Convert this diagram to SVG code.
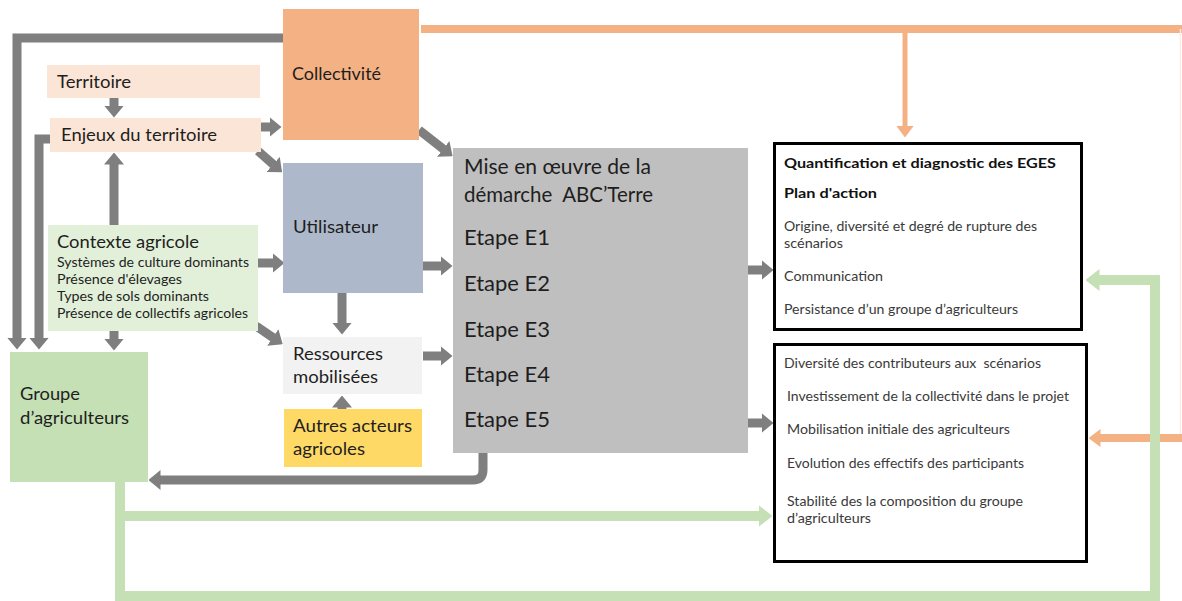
<svg xmlns="http://www.w3.org/2000/svg" width="1182" height="601" viewBox="0 0 1182 601">
<style>
text{font-family:Lato,"Liberation Sans",sans-serif;fill:#1e1e1e;}
.m{font-size:17px;}
.s{font-size:13px;}
.g{font-size:21px;}
.b{font-size:13.5px;font-weight:bold;fill:#111;}
.r{font-size:12.5px;fill:#3a3a3a;}
.cg{fill:none;stroke:#7f7f7f;stroke-width:9;marker-end:url(#ag);}
.co{fill:none;stroke:#f4b183;stroke-width:8;}
.cr{fill:none;stroke:#c5e0b4;stroke-width:10;}
</style>
<defs>
<marker id="ag" markerUnits="userSpaceOnUse" viewBox="0 0 12 20" markerWidth="12" markerHeight="20" refX="0.5" refY="10" orient="auto"><path d="M0,0 L12,10 L0,20 z" fill="#7f7f7f"/></marker>
<marker id="ao" markerUnits="userSpaceOnUse" viewBox="0 0 12 18" markerWidth="12" markerHeight="18" refX="0.5" refY="9" orient="auto"><path d="M0,0 L12,9 L0,18 z" fill="#f4b183"/></marker>
<marker id="agr" markerUnits="userSpaceOnUse" viewBox="0 0 14 22" markerWidth="14" markerHeight="22" refX="0.5" refY="11" orient="auto"><path d="M0,0 L14,11 L0,22 z" fill="#c5e0b4"/></marker>
</defs>
<rect width="1182" height="601" fill="#fff"/>

<g id="connectors">
<path class="co" d="M421,29 H1182"/>
<path class="co" d="M905,29 V126" style="stroke-width:5;marker-end:url(#ao)"/>
<path d="M1180.5,29 V438" fill="none" stroke="#fcebe0" stroke-width="1.5"/>
<path class="co" d="M1182,438 H1100" style="marker-end:url(#ao)"/>
<path class="cr" d="M120,482 V596 H1155 V280 H1099" style="marker-end:url(#agr)"/>
<path class="cr" d="M120,516 H759" style="marker-end:url(#agr)"/>
<path class="cg" d="M114,98 V106"/>
<path class="cg" d="M114,225 V164"/>
<path class="cg" d="M261,127 H270"/>
<path class="cg" d="M258,151 L273.5,164.7"/>
<path class="cg" d="M419,130 L443.6,149.2"/>
<path class="cg" d="M258,263 H273"/>
<path class="cg" d="M256,326 L273.2,337.7"/>
<path class="cg" d="M114,331 V339"/>
<path class="cg" d="M342,293 V323"/>
<path class="cg" d="M342,409 V407"/>
<path class="cg" d="M423,266 H441"/>
<path class="cg" d="M423,356 H441"/>
<path class="cg" d="M748,270 H762"/>
<path class="cg" d="M748,423 H762"/>
<path class="cg" d="M283,38 H17 V338"/>
<path class="cg" d="M50,139 H39 V338"/>
<path class="cg" d="M483,453 V470 Q483,480 473,480 H160"/>
</g>

<g id="territoire">
<rect x="47" y="65" width="213" height="33" fill="#fbe5d6"/>
<text class="m" x="57" y="88" textLength="74" lengthAdjust="spacingAndGlyphs">Territoire</text>
</g>
<g id="enjeux">
<rect x="50" y="118" width="211" height="34" fill="#fbe5d6"/>
<text class="m" x="61" y="141" textLength="156" lengthAdjust="spacingAndGlyphs">Enjeux du territoire</text>
</g>
<g id="collectivite">
<rect x="283" y="9" width="136" height="131" fill="#f4b183"/>
<text class="m" x="292" y="80" textLength="89" lengthAdjust="spacingAndGlyphs">Collectivité</text>
</g>
<g id="utilisateur">
<rect x="283" y="163" width="140" height="130" fill="#adb9ca"/>
<text class="m" x="293" y="233" textLength="85" lengthAdjust="spacingAndGlyphs">Utilisateur</text>
</g>
<g id="contexte">
<rect x="48" y="225" width="210" height="106" fill="#e2f0d9"/>
<text x="57" y="248" style="font-size:18px" textLength="142" lengthAdjust="spacingAndGlyphs">Contexte agricole</text>
<text class="s" x="57" y="267" textLength="192" lengthAdjust="spacingAndGlyphs">Systèmes de culture dominants</text>
<text class="s" x="57" y="284" textLength="125" lengthAdjust="spacingAndGlyphs">Présence d'élevages</text>
<text class="s" x="57" y="301" textLength="152" lengthAdjust="spacingAndGlyphs">Types de sols dominants</text>
<text class="s" x="57" y="318" textLength="191" lengthAdjust="spacingAndGlyphs">Présence de collectifs agricoles</text>
</g>
<g id="ressources">
<rect x="283" y="337" width="139" height="57" fill="#f2f2f2"/>
<text class="m" x="293" y="360" textLength="90" lengthAdjust="spacingAndGlyphs">Ressources</text>
<text class="m" x="293" y="383" textLength="85" lengthAdjust="spacingAndGlyphs">mobilisées</text>
</g>
<g id="autres">
<rect x="284" y="409" width="138" height="58" fill="#ffd966"/>
<text class="m" x="293" y="432" textLength="119" lengthAdjust="spacingAndGlyphs">Autres acteurs</text>
<text class="m" x="293" y="455" textLength="72" lengthAdjust="spacingAndGlyphs">agricoles</text>
</g>
<g id="groupe">
<rect x="10" y="352" width="138" height="130" fill="#c5e0b4"/>
<text class="m" x="20" y="400" textLength="60" lengthAdjust="spacingAndGlyphs">Groupe</text>
<text class="m" x="20" y="424" textLength="109" lengthAdjust="spacingAndGlyphs">d’agriculteurs</text>
</g>
<g id="demarche">
<rect x="453" y="148" width="295" height="305" fill="#bfbfbf"/>
<text class="g" x="464" y="174" textLength="187" lengthAdjust="spacingAndGlyphs">Mise en œuvre de la</text>
<text class="g" x="464" y="202" textLength="189" lengthAdjust="spacingAndGlyphs" xml:space="preserve">démarche  ABC’Terre</text>
<text class="g" x="464" y="245" textLength="86" lengthAdjust="spacingAndGlyphs">Etape E1</text>
<text class="g" x="464" y="291" textLength="86" lengthAdjust="spacingAndGlyphs">Etape E2</text>
<text class="g" x="464" y="337" textLength="86" lengthAdjust="spacingAndGlyphs">Etape E3</text>
<text class="g" x="464" y="382" textLength="86" lengthAdjust="spacingAndGlyphs">Etape E4</text>
<text class="g" x="464" y="427" textLength="86" lengthAdjust="spacingAndGlyphs">Etape E5</text>
</g>
<g id="resultats">
<rect x="774.5" y="143.5" width="307" height="186" fill="#fff" stroke="#000" stroke-width="3"/>
<text class="b" x="784" y="168" textLength="272" lengthAdjust="spacingAndGlyphs">Quantification et diagnostic des EGES</text>
<text class="b" x="784" y="198" textLength="93" lengthAdjust="spacingAndGlyphs">Plan d'action</text>
<text class="r" x="784" y="231" textLength="253" lengthAdjust="spacingAndGlyphs">Origine, diversité et degré de rupture des</text>
<text class="r" x="784" y="248" textLength="59" lengthAdjust="spacingAndGlyphs">scénarios</text>
<text class="r" x="784" y="281" textLength="99" lengthAdjust="spacingAndGlyphs">Communication</text>
<text class="r" x="784" y="314" textLength="234" lengthAdjust="spacingAndGlyphs">Persistance d’un groupe d’agriculteurs</text>
</g>
<g id="indicateurs">
<rect x="774.5" y="344.5" width="312" height="217" fill="#fff" stroke="#000" stroke-width="3"/>
<text class="r" x="784" y="368" textLength="257" lengthAdjust="spacingAndGlyphs" xml:space="preserve">Diversité des contributeurs aux  scénarios</text>
<text class="r" x="787" y="401" textLength="282" lengthAdjust="spacingAndGlyphs">Investissement de la collectivité dans le projet</text>
<text class="r" x="787" y="434" textLength="223" lengthAdjust="spacingAndGlyphs">Mobilisation initiale des agriculteurs</text>
<text class="r" x="787" y="468" textLength="237" lengthAdjust="spacingAndGlyphs">Evolution des effectifs des participants</text>
<text class="r" x="787" y="506" textLength="236" lengthAdjust="spacingAndGlyphs">Stabilité des la composition du groupe</text>
<text class="r" x="787" y="523" textLength="84" lengthAdjust="spacingAndGlyphs">d’agriculteurs</text>
</g>
</svg>
